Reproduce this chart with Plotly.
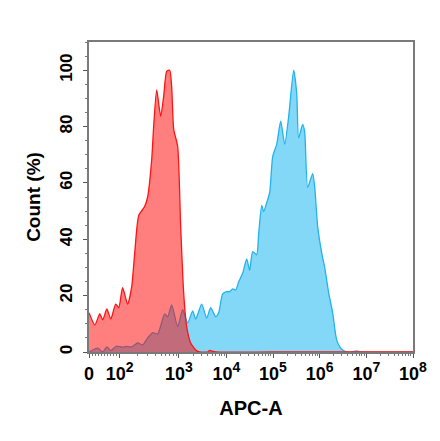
import numpy as np
import plotly.graph_objects as go

# APC-A histograms (intensity, % of max count)
red_apc = [0, 19, 35, 45, 58, 71, 87, 97, 112, 136, 159, 179, 209, 263, 296, 346, 374,
           421, 491, 552, 620, 697, 753, 815, 950, 1086, 1256, 1453, 1765, 2362, 2734,
           4000, 4446, 5000, 6000, 1e5, 1e8]
red_count = [13.9, 9.6, 13.5, 11.4, 15.3, 11.7, 17, 15.7, 22.8, 17, 23, 35, 48.4, 51.6, 55, 68, 80,
             93, 83.6, 90.7, 99.6, 100, 94, 79, 73, 44.5, 21, 9, 3.2, 0.4, 0,
             0, 0.6, 0.3, 0, 0, 0]

blue_apc = [0, 28, 45, 58, 71, 90, 108, 131, 159, 201, 244, 296, 360, 437, 574, 645, 753,
            950, 1197, 1527, 1946, 2251, 3012, 3839, 4667, 5944, 6871, 8356, 10150, 11770,
            13650, 15830, 18360, 22400, 27290, 31620, 36650, 44650, 49320, 57280, 63100,
            73280, 84920, 98600, 120000, 146200, 178200, 216800, 277300, 321400, 354800,
            432500, 477500, 553400, 708000, 781000, 906000, 1104000, 1280000, 1560000,
            1897000, 2312000, 2958000, 3785000, 4842000, 6194000, 7925000, 1e8]
blue_count = [0, 1.4, 0, 1.8, 0.5, 2.1, 1.7, 2, 1.8, 3.2, 2.5, 5, 6.9, 6.4, 13.5, 12.5, 16.7,
              9, 15, 10.3, 14.6, 11.7, 17, 12, 15.7, 12.5, 13.9, 20.6, 21.4, 21.4,
              22.4, 22, 24.9, 28, 33, 29, 35.6, 34.5, 42, 52, 49.8, 53,
              56.6, 69.4, 73.7, 81.9, 73.7, 83.6, 100, 92, 76,
              80.8, 78, 58.4, 63.3, 58.7, 44.5, 35.2, 30, 21,
              13.9, 4.3, 1, 0, 0, 0.4, 0, 0]

tick_values = [0, 1e2, 1e3, 1e4, 1e5, 1e6, 1e7, 1e8]
tick_labels = ["0"] + ["10<sup><span style='font-size:14px'>%d</span></sup>" % k for k in range(2, 9)]

# biexponential-like display scale: 0, then log decades from 10^2
disp_dec = [2, 3, 4, 5, 6, 7, 8]
disp_pos = [0.658, 1.928, 2.944, 3.943, 4.943, 5.944, 6.943]


def to_axis(v):
    v = np.asarray(v, dtype=float)
    lin = v / 100 * disp_pos[0]
    lg = np.interp(np.log10(np.maximum(v, 100)), disp_dec, disp_pos)
    return np.where(v <= 100, lin, lg)


minor_vals = [m * 10 for m in range(1, 10)]
for d in range(2, 8):
    minor_vals += [m * 10 ** d for m in range(2, 10)]

fig = go.Figure()
fig.add_trace(go.Scatter(
    x=to_axis(blue_apc), y=blue_count, mode="lines", fill="tozeroy",
    line=dict(color="rgb(35,178,238)", width=1.3, shape="spline", smoothing=0.6),
    fillcolor="rgb(132,216,247)", hoverinfo="skip"
))
fig.add_trace(go.Scatter(
    x=to_axis(red_apc), y=red_count, mode="lines", fill="tozeroy",
    line=dict(color="rgb(255,20,20)", width=1.3, shape="spline", smoothing=0.6),
    fillcolor="rgba(255,0,0,0.5)", hoverinfo="skip"
))

# page body has an 8px margin, so the figure is a little smaller than the window
fig.update_layout(
    width=432, height=433,
    margin=dict(l=81, r=27, t=34, b=89),
    plot_bgcolor="white", paper_bgcolor="white",
    showlegend=False,
    font=dict(family="Liberation Sans, Arial, sans-serif", color="black"),
)
fig.update_xaxes(
    range=[0, 6.943], tickvals=to_axis(tick_values), ticktext=tick_labels,
    tickfont=dict(size=18, weight="bold"),
    ticks="outside", ticklen=4, tickcolor="#555",
    minor=dict(tickvals=list(to_axis(minor_vals)), ticks="outside", ticklen=2, tickcolor="#777"),
    showline=True, linecolor="#7a7a7a", linewidth=2, mirror=True,
    showgrid=False, zeroline=False,
    title=dict(text="APC-A", font=dict(size=20, weight="bold"), standoff=18),
)
fig.update_yaxes(
    range=[0, 110], tickvals=[0, 20, 40, 60, 80, 100], tickangle=-90,
    tickfont=dict(size=17, weight="bold"), ticklabelstandoff=4,
    ticks="outside", ticklen=4, tickcolor="#555",
    minor=dict(dtick=5, ticks="outside", ticklen=2, tickcolor="#777"),
    showline=True, linecolor="#7a7a7a", linewidth=2, mirror=True,
    showgrid=False, zeroline=False,
    title=dict(text="Count (%)", font=dict(size=19, weight="bold"), standoff=12),
)

fig.write_html("out.html")
